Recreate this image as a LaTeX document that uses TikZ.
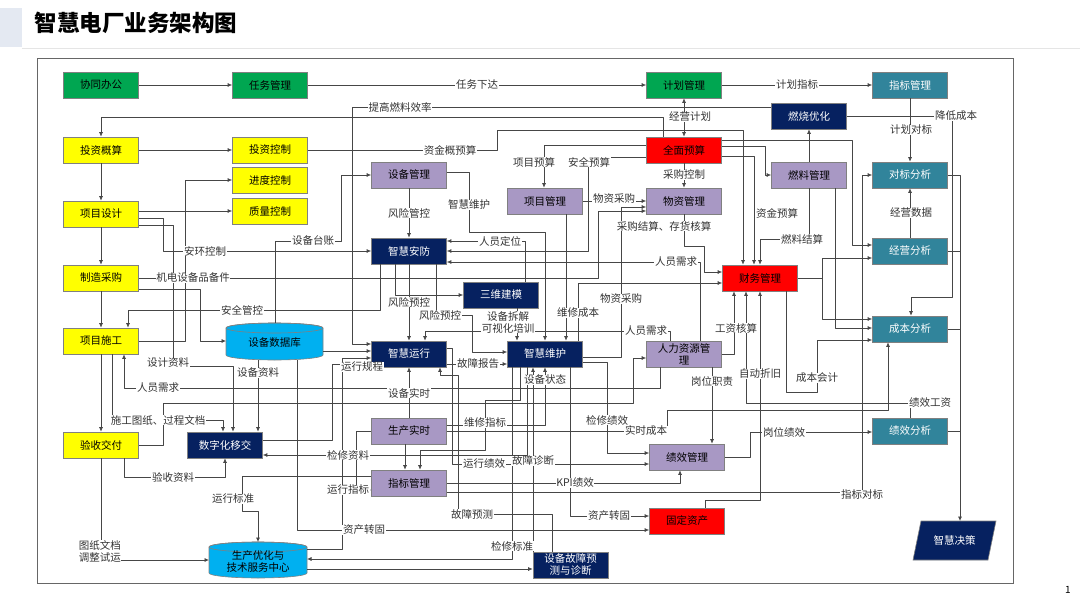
\documentclass[tikz,border=0pt]{standalone}
\usepackage{fontspec}
\setmainfont{Noto Sans CJK SC}
\usetikzlibrary{arrows.meta}
\definecolor{cgreen}{RGB}{0,166,81}
\definecolor{cyellow}{RGB}{255,255,0}
\definecolor{cpurple}{RGB}{168,152,196}
\definecolor{cnavy}{RGB}{6,33,96}
\definecolor{cteal}{RGB}{49,132,155}
\definecolor{cred}{RGB}{255,0,0}
\definecolor{ccyan}{RGB}{0,176,240}
\definecolor{cwire}{RGB}{70,70,70}
\definecolor{ctitle}{RGB}{228,233,242}
\tikzset{
  bx/.style={draw=black!50, line width=0.6pt, minimum width=75pt, minimum height=26pt, inner sep=1pt, align=center, font=\fontsize{10.5}{12}\selectfont},
  gb/.style={bx, fill=cgreen},
  yb/.style={bx, fill=cyellow},
  pb/.style={bx, fill=cpurple},
  nb/.style={bx, fill=cnavy, text=white},
  tb/.style={bx, fill=cteal, text=white},
  rb/.style={bx, fill=cred},
  wire/.style={draw=cwire, line width=0.7pt, line join=round, -{Latex[length=4.5pt,width=4pt]}},
  dwire/.style={draw=cwire, line width=0.7pt, {Latex[length=4.5pt,width=4pt]}-{Latex[length=4.5pt,width=4pt]}},
  bus/.style={draw=cwire, line width=0.7pt},
  lab/.style={fill=white, inner sep=0.6pt, align=center, font=\fontsize{10.5}{12}\selectfont, text=black!80},
  anch/.style={inner sep=0pt, outer sep=0pt},
}
\begin{document}
\begin{tikzpicture}[x=1pt,y=-1pt]
\useasboundingbox (0,0) rectangle (1080,608);
% title
\fill[ctitle] (0,8) rectangle (22,47);
\draw[black!10, line width=0.8pt] (22,48) -- (1080,48);
\node[anchor=west, font=\fontsize{22.5}{26}\selectfont\bfseries] (title) at (31,23) {智慧电厂业务架构图};
\node[font=\fontsize{10}{12}\selectfont] (pg) at (1068,590) {1};
\draw[black!60, line width=0.8pt] (37,58) rectangle (1013,583);

% nodes
\node[gb] (xtbg) at (101,85) {协同办公};
\node[gb] (rwgl) at (270,85) {任务管理};
\node[gb] (jhgl) at (684,85) {计划管理};
\node[tb] (zbgl) at (910,85) {指标管理};
\node[nb] (rsyh) at (809,116) {燃烧优化};
\node[rb] (qmys) at (684,150) {全面预算};
\node[yb] (tzgs) at (101,150) {投资概算};
\node[yb] (tzkz) at (270,150) {投资控制};
\node[yb] (jdkz) at (270,180) {进度控制};
\node[yb] (zlkz) at (270,211) {质量控制};
\node[yb] (xmsj) at (101,214) {项目设计};
\node[pb] (sbgl) at (409,175) {设备管理};
\node[pb] (xmgl) at (545,201) {项目管理};
\node[pb] (wzgl) at (684,201) {物资管理};
\node[pb] (rlgl) at (809,175) {燃料管理};
\node[tb] (dbfx) at (910,175) {对标分析};
\node[nb] (zhaf) at (409,251) {智慧安防};
\node[tb] (jyfx) at (910,251) {经营分析};
\node[rb] (cwgl) at (760,278) {财务管理};
\node[yb] (zzcg) at (101,278) {制造采购};
\node[nb] (swjm) at (501,295) {三维建模};
\node[yb] (xmsg) at (101,341) {项目施工};
\node[nb] (zhyx) at (409,354) {智慧运行};
\node[nb] (zhwh) at (545,354) {智慧维护};
\node[pb] (rlzy) at (684,354) {人力资源管\\理};
\node[tb] (cbfx) at (910,329) {成本分析};
\node[pb] (scss) at (409,431) {生产实时};
\node[yb] (ysjf) at (101,445) {验收交付};
\node[nb] (szhyj) at (225,445) {数字化移交};
\node[tb] (jxfx) at (910,431) {绩效分析};
\node[pb] (jxgl) at (687,457) {绩效管理};
\node[pb] (zbgl2) at (409,483) {指标管理};
\node[rb] (gdzc) at (687,521) {固定资产};
\node[nb] (gzyc) at (570.5,565) {设备故障预\\测与诊断};

% cylinder: equipment database
\filldraw[fill=ccyan, draw=black!50, line width=0.6pt] (226,328) -- (226,355) arc[start angle=180,end angle=360,x radius=48.5pt,y radius=5pt] -- (323,328) arc[start angle=0,end angle=180,x radius=48.5pt,y radius=5pt] -- cycle;
\draw[black!50, line width=0.6pt] (274.5,328) ellipse[x radius=48.5pt, y radius=5pt];
\node[anch, minimum width=97pt, minimum height=37pt] (db) at (274.5,341.5) {};
\node[font=\fontsize{10.5}{12}\selectfont] (dbt) at (274.5,343) {设备数据库};
% cylinder: production optimisation centre
\filldraw[fill=ccyan, draw=black!50, line width=0.6pt] (209,547) -- (209,573) arc[start angle=180,end angle=360,x radius=49pt,y radius=5pt] -- (307,547) arc[start angle=0,end angle=180,x radius=49pt,y radius=5pt] -- cycle;
\draw[black!50, line width=0.6pt] (258,547) ellipse[x radius=49pt, y radius=5pt];
\node[anch, minimum width=98pt, minimum height=36pt] (sczx) at (258,560) {};
\node[align=center, font=\fontsize{10.5}{12}\selectfont] (sczxt) at (258,562) {生产优化与\\技术服务中心};
% parallelogram: decision
\filldraw[fill=cnavy, draw=black!50, line width=0.6pt] (921,521) -- (996,521) -- (988,560) -- (913,560) -- cycle;
\node[anch, minimum width=75pt, minimum height=39pt, text=white, font=\fontsize{10.5}{12}\selectfont] (zhjc) at (954.5,540.5) {智慧决策};

% ---------------- connectors ----------------
\draw[wire] (xtbg) -- (rwgl);
\draw[wire] (rwgl) -- (jhgl);
\draw[wire] (jhgl) -- (zbgl);
\draw[dwire] (jhgl) -- (qmys);
\draw[wire] (qmys.north -| 663,0) -- (663,117) -- (101,117) -- (tzgs.north);
\draw[wire] (tzgs) -- (tzkz);
\draw[wire] (tzkz.east) -- (497,150) -- (497,130) -- (743,130) -- (cwgl.north -| 743,0);
\draw[wire] (qmys.east |- 0,156) -- (754,156) -- (cwgl.north -| 754,0);
\draw[wire] (qmys.east |- 0,146) -- (765,146) -- (765,175) -- (rlgl.west);
\draw[wire] (qmys.east |- 0,140) -- (852,140) -- (852,245) -- (jyfx.west |- 0,245);
\draw[wire] (qmys) -- (wzgl);
\draw[wire] (qmys.west |- 0,145) -- (544,145) -- (xmgl.north -| 544,0);
\draw[wire] (qmys.west |- 0,157) -- (588,157) -- (588,251) -- (zhaf.east |- 0,251);
\draw[wire] (zbgl) -- (dbfx);
\draw[wire] (rlgl) -- (rsyh);
\draw[wire] (rsyh.east) -- (952,116) -- (952,297) -- (911,297) -- (cbfx.north -| 911,0);
\draw[wire] (rsyh.west |- 0,107) -- (352,107) -- (352,344) -- (zhyx.west |- 0,344);
\draw[wire] (jyfx) -- (dbfx);
\draw[wire] (dbfx.east) -- (960,175) -- (zhjc.north -| 960,0);
\draw[bus] (jyfx.east) -- (960,251);
\draw[bus] (cbfx.east) -- (960,329);
\draw[bus] (jxfx.east) -- (960,431);
\draw[wire] (zbgl2.east |- 0,492) -- (862,492) -- (862,175) -- (dbfx.west);
\draw[wire] (cwgl.east) -- (822,278) -- (822,258) -- (jyfx.west |- 0,258);
\draw[wire] (cwgl.east) -- (822,278) -- (822,319) -- (cbfx.west |- 0,319);
\draw[wire] (rlgl.south -| 835,0) -- (835,328) -- (cbfx.west |- 0,328);
\draw[wire] (rlgl.south) -- (809,239) -- (760,239) -- (cwgl.north);
\draw[wire] (wzgl.south) -- (684,246) -- (704,246) -- (704,272) -- (cwgl.west |- 0,272);
\draw[wire] (xmgl) -- (wzgl);
\draw[wire] (xmgl.south -| 566,0) -- (zhwh.north -| 566,0);
\draw[wire] (sbgl) -- (zhaf);
\draw[wire] (sbgl.east |- 0,172) -- (469,172) -- (469,232) -- (545,232) -- (zhwh.north);
\draw[wire] (zzcg.east |- 0,278) -- (598,278) -- (598,211) -- (wzgl.west |- 0,211);
\draw[wire] (zhwh.east |- 0,357) -- (621,357) -- (621,207) -- (wzgl.west |- 0,207);
\draw[wire] (zhwh.north -| 578,0) -- (578,283) -- (cwgl.west |- 0,283);
\draw[wire] (rlzy.east) -- (734,354) -- (cwgl.south -| 734,0);
\draw[wire] (gdzc.north -| 705,0) -- (705,500) -- (760,500) -- (cwgl.south -| 760,0);
\draw[wire] (rlzy.south -| 712,0) -- (jxgl.north -| 712,0);
\draw[wire] (jxgl.east) -- (750,457) -- (750,432) -- (jxfx.west |- 0,432);
\draw[wire] (jxfx.north) -- (910,403) -- (746,403) -- (cwgl.south -| 746,0);
\draw[wire] (cwgl.south -| 786,0) -- (786,392) -- (817,392) -- (817,340) -- (cbfx.west |- 0,340);
\draw[wire] (scss.east) -- (667,431) -- (667,410) -- (888,410) -- (cbfx.south -| 888,0);
\draw[wire] (zhwh.east |- 0,362) -- (607,362) -- (607,453) -- (jxgl.west |- 0,453);
\draw[wire] (zhyx.east |- 0,348) -- (452,348) -- (452,464) -- (jxgl.west |- 0,464);
\draw[wire] (gzyc.north -| 552,0) -- (552,514) -- (458,514) -- (458,375) -- (440,375) -- (zhyx.south -| 440,0);
\draw[wire] (zhwh.south -| 520,0) -- (520,400) -- (485,400) -- (485,450) -- (420,450) -- (zbgl2.north -| 420,0);
\draw[wire] (scss.south -| 405,0) -- (zbgl2.north -| 405,0);
\draw[wire] (zhwh.south -| 527,0) -- (527,455) -- (szhyj.east |- 0,455);
\draw[wire] (scss.east |- 0,425) -- (545,425) -- (zhwh.south -| 545,0);
\draw[wire] (gzyc.north -| 533,0) -- (zhwh.south -| 533,0);
\draw[wire] (zhwh.south -| 512,0) -- (512,559) -- (sczx.east |- 0,559);
\draw[wire] (sczx.east |- 0,569) -- (gzyc.west |- 0,569);
\draw[wire] (sczx.east |- 0,549) -- (342,549) -- (342,358) -- (zhyx.west |- 0,358);
\draw[wire] (zbgl2.west |- 0,476) -- (242,476) -- (242,511) -- (258,511) -- (sczx.north);
\draw[wire] (scss.west) -- (356,431) -- (356,490) -- (zbgl2.west |- 0,490);
\draw[wire] (szhyj.east |- 0,440) -- (332,440) -- (332,364) -- (zhyx.west |- 0,364);
\draw[wire] (db.east |- 0,351) -- (zhyx.west |- 0,351);
\draw[wire] (db.south -| 258,0) -- (szhyj.north -| 258,0);
\draw[wire] (db.south -| 297,0) -- (297,530) -- (gdzc.west |- 0,530);
\draw[wire] (zhwh.south -| 570,0) -- (570,516) -- (gdzc.west |- 0,516);
\draw[wire] (zbgl2.east |- 0,483) -- (680,483) -- (jxgl.south -| 680,0);
\draw[wire] (scss) -- (zhyx);
% left column
\draw[wire] (tzgs) -- (xmsj);
\draw[wire] (xmsj) -- (zzcg);
\draw[wire] (zzcg) -- (xmsg);
\draw[wire] (xmsg) -- (ysjf);
\draw[wire] (xmsj.east |- 0,211) -- (zlkz.west);
\draw[wire] (xmsg.east) -- (185,341) -- (185,180) -- (jdkz.west);
\draw[wire] (xmsj.east |- 0,218) -- (163,218) -- (163,251) -- (zhaf.west |- 0,251);
\draw[wire] (xmsj.east |- 0,225) -- (173,225) -- (173,366) -- (233,366) -- (szhyj.north -| 233,0);
\draw[wire] (zzcg.east |- 0,289) -- (200,289) -- (200,341) -- (db.west |- 0,341);
\draw[wire] (zhaf.south -| 380,0) -- (380,310) -- (128,310) -- (xmsg.north -| 128,0);
\draw[wire] (zhaf.south -| 395,0) -- (395,295) -- (swjm.west |- 0,295);
\draw[wire] (zhaf.south -| 409,0) -- (zhyx.north -| 409,0);
\draw[wire] (zhaf.south -| 436,0) -- (436,315) -- (472,315) -- (472,352) -- (zhwh.west |- 0,352);
\draw[wire] (zhyx.east |- 0,364) -- (zhwh.west |- 0,364);
\draw[wire] (swjm.south -| 517,0) -- (zhwh.north -| 517,0);
\draw[wire] (db.north -| 275,0) -- (275,241) -- (341,241) -- (341,175) -- (sbgl.west);
\draw[wire] (swjm.north -| 525,0) -- (525,241) -- (zhaf.east |- 0,241);
\draw[wire] (rlzy.north -| 700,0) -- (700,262) -- (zhaf.east |- 0,262);
\draw[wire] (rlzy.north -| 670,0) -- (670,331) -- (425,331) -- (zhyx.north -| 425,0);
\draw[wire] (rlzy.south -| 660,0) -- (660,388) -- (124,388) -- (xmsg.south -| 124,0);
\draw[wire] (xmsg.south -| 112,0) -- (112,420) -- (223,420) -- (szhyj.north -| 223,0);
\draw[wire] (ysjf.east) -- (163,445) -- (163,403) -- (633,403) -- (633,358) -- (rlzy.west |- 0,358);
\draw[wire] (ysjf.south -| 124,0) -- (124,477) -- (225,477) -- (szhyj.south);
\draw[wire] (ysjf.south -| 101,0) -- (101,560) -- (sczx.west);

% ---------------- labels ----------------
\node[lab] (l01) at (477,85) {任务下达};
\node[lab] (l02) at (797,85) {计划指标};
\node[lab] (l03) at (400,107) {提高燃料效率};
\node[lab] (l04) at (956,116) {降低成本};
\node[lab] (l05) at (690,117) {经营计划};
\node[lab] (l06) at (911,130) {计划对标};
\node[lab] (l07) at (450,150) {资金概预算};
\node[lab] (l08) at (534,162) {项目预算};
\node[lab] (l09) at (589,162) {安全预算};
\node[lab] (l10) at (684,175) {采购控制};
\node[lab] (l11) at (409,213) {风险管控};
\node[lab] (l12) at (469,205) {智慧维护};
\node[lab] (l13) at (614,199) {物资采购};
\node[lab] (l14) at (664,226) {采购结算、存货核算};
\node[lab] (l15) at (777,213) {资金预算};
\node[lab] (l16) at (911,213) {经营数据};
\node[lab] (l17) at (313,241) {设备台账};
\node[lab] (l18) at (205,251) {安环控制};
\node[lab] (l19) at (500,241) {人员定位};
\node[lab] (l20) at (802,239) {燃料结算};
\node[lab] (l21) at (676,262) {人员需求};
\node[lab] (l22) at (193,278) {机电设备品备件};
\node[lab] (l23) at (242,310) {安全管控};
\node[lab] (l24) at (409,302) {风险预控};
\node[lab] (l25) at (440,315) {风险预控};
\node[lab] (l26) at (621,299) {物资采购};
\node[lab] (l27) at (578,313) {维修成本};
\node[lab] (l28) at (508,322) {设备拆解\\可视化培训};
\node[lab] (l29) at (646,331) {人员需求};
\node[lab] (l30) at (736,328) {工资核算};
\node[lab] (l31) at (168,363) {设计资料};
\node[lab] (l32) at (362,367) {运行规程};
\node[lab] (l33) at (258,373) {设备资料};
\node[lab] (l34) at (478,364) {故障报告};
\node[lab] (l35) at (545,380) {设备状态};
\node[lab] (l36) at (712,381) {岗位职责};
\node[lab] (l37) at (760,374) {自动折旧};
\node[lab] (l38) at (817,378) {成本会计};
\node[lab] (l39) at (158,388) {人员需求};
\node[lab] (l40) at (409,393) {设备实时};
\node[lab] (l41) at (158,420) {施工图纸、过程文档};
\node[lab] (l42) at (930,403) {绩效工资};
\node[lab] (l43) at (485,423) {维修指标};
\node[lab] (l44) at (607,420) {检修绩效};
\node[lab] (l45) at (646,431) {实时成本};
\node[lab] (l46) at (784,432) {岗位绩效};
\node[lab] (l47) at (348,455) {检修资料};
\node[lab] (l48) at (533,461) {故障诊断};
\node[lab] (l49) at (484,464) {运行绩效};
\node[lab] (l50) at (173,477) {验收资料};
\node[lab] (l51) at (348,490) {运行指标};
\node[lab] (l52) at (575,483) {KPI绩效};
\node[lab] (l53) at (862,495) {指标对标};
\node[lab] (l54) at (233,499) {运行标准};
\node[lab] (l55) at (472,514) {故障预测};
\node[lab] (l56) at (609,516) {资产转固};
\node[lab] (l57) at (364,530) {资产转固};
\node[lab, align=left, anchor=west] (l58) at (78,551) {图纸文档\\调整试运};
\node[lab] (l59) at (512,546) {检修标准};
\end{tikzpicture}
\end{document}
